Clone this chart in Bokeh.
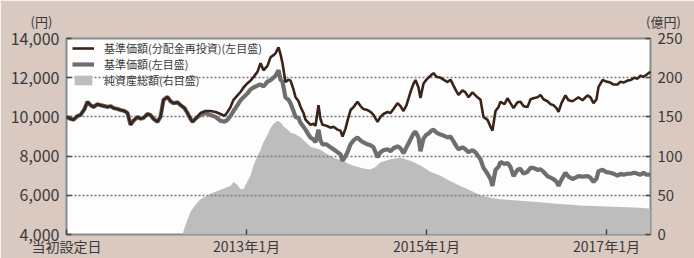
from bokeh.plotting import figure
from bokeh.models import (Range1d, LinearAxis, FixedTicker, NumeralTickFormatter,
                          Legend, LegendItem, Title)
from bokeh.embed import file_html
from bokeh.resources import INLINE

# ---- data (x = years since fund launch) ----
t_line = [0.000, 0.044, 0.078, 0.122, 0.156, 0.200, 0.233, 0.267, 0.300, 0.344,
          0.378, 0.422, 0.456, 0.489, 0.522, 0.567, 0.600, 0.644, 0.678, 0.711,
          0.744, 0.789, 0.822, 0.856, 0.900, 0.933, 0.967, 1.011, 1.044, 1.078,
          1.122, 1.156, 1.189, 1.233, 1.267, 1.311, 1.344, 1.378, 1.400, 1.444,
          1.489, 1.544, 1.600, 1.656, 1.711, 1.756, 1.789, 1.822, 1.856, 1.900,
          1.933, 1.967, 2.011, 2.044, 2.078, 2.122, 2.156, 2.189, 2.233, 2.267,
          2.300, 2.322, 2.356, 2.378, 2.400, 2.433, 2.467, 2.489, 2.522, 2.544,
          2.578, 2.600, 2.633, 2.656, 2.689, 2.711, 2.744, 2.767, 2.800, 2.822,
          2.844, 2.889, 2.933, 2.967, 3.011, 3.044, 3.067, 3.100, 3.122, 3.156,
          3.189, 3.233, 3.267, 3.300, 3.344, 3.378, 3.411, 3.456, 3.489, 3.522,
          3.567, 3.600, 3.633, 3.678, 3.711, 3.744, 3.778, 3.822, 3.856, 3.878,
          3.911, 3.933, 3.967, 4.000, 4.022, 4.056, 4.078, 4.111, 4.156, 4.189,
          4.233, 4.267, 4.300, 4.333, 4.356, 4.400, 4.433, 4.467, 4.511, 4.544,
          4.567, 4.600, 4.633, 4.678, 4.711, 4.733, 4.767, 4.800, 4.822, 4.867,
          4.900, 4.933, 4.967, 5.011, 5.044, 5.078, 5.122, 5.156, 5.189, 5.233,
          5.267, 5.300, 5.344, 5.378, 5.411, 5.444, 5.467, 5.500, 5.544, 5.578,
          5.622, 5.656, 5.689, 5.733, 5.789, 5.822, 5.856, 5.889, 5.911, 5.956,
          6.000, 6.044, 6.078, 6.122, 6.156, 6.189, 6.233, 6.267, 6.311, 6.344,
          6.378, 6.411, 6.444, 6.489]

nav_reinvested = [10000, 9900, 9850, 10050, 10100, 10400, 10770, 10600, 10500, 10650,
                  10600, 10550, 10500, 10550, 10450, 10400, 10350, 10300, 10200, 9600,
                  9800, 10000, 9900, 9950, 10150, 10100, 9900, 9750, 10000, 10870,
                  11020, 10800, 10700, 10750, 10600, 10450, 10200, 9900, 9750, 9950,
                  10200, 10300, 10300, 10250, 10150, 10050, 10250, 10500, 10870, 11100,
                  11270, 11500, 11720, 11850, 12030, 12300, 12740, 12380, 12600, 13040,
                  13150, 13240, 13550, 13200, 12740, 11780, 11900, 11850, 11400, 11020,
                  10800, 10520, 10200, 9860, 9700, 9600, 9650, 9550, 10600, 9900,
                  9600, 9550, 9450, 9500, 9350, 9300, 9000, 9400, 9800, 10350,
                  10500, 10770, 10550, 10400, 10350, 10260, 10100, 9750, 10000, 10150,
                  10250, 10200, 10400, 10700, 10550, 10300, 10600, 11270, 11700, 11880,
                  11500, 10970, 11700, 11900, 12000, 12150, 12230, 12050, 12000, 11900,
                  11780, 11900, 11600, 11300, 11120, 11350, 11250, 11000, 11250, 11100,
                  11000, 10870, 10000, 9850, 9500, 9300, 10300, 10500, 10770, 10650,
                  10950, 10700, 10450, 10750, 10770, 10550, 10500, 10900, 10950, 11000,
                  11120, 10900, 10800, 10650, 10600, 10450, 10260, 10700, 11100, 10850,
                  10800, 10900, 11000, 10850, 11100, 11000, 10700, 10900, 11520, 11880,
                  11800, 11750, 11650, 11650, 11800, 11750, 11850, 11880, 12000, 11950,
                  12100, 12050, 12150, 12300]

nav = [10000, 9900, 9850, 10050, 10100, 10400, 10770, 10600, 10500, 10650,
       10600, 10550, 10500, 10550, 10450, 10400, 10350, 10300, 10200, 9600,
       9800, 10000, 9900, 9950, 10150, 10100, 9900, 9750, 10000, 10870,
       11020, 10800, 10700, 10750, 10600, 10450, 10200, 9900, 9750, 9950,
       10100, 10200, 10100, 10000, 9800, 9750, 9850, 10050, 10300, 10600,
       10850, 11000, 11200, 11400, 11500, 11600, 11650, 11550, 11800, 11880,
       12000, 12100, 12380, 11900, 11800, 11000, 10870, 10700, 10300, 10000,
       9950, 9700, 9500, 9350, 9100, 8950, 8850, 8700, 9350, 8800,
       8600, 8600, 8450, 8350, 8200, 8100, 7750, 8000, 8200, 8600,
       8800, 8950, 8800, 8700, 8600, 8550, 8450, 7950, 8200, 8300,
       8350, 8250, 8400, 8500, 8400, 8150, 8450, 8850, 9150, 9250,
       8950, 8250, 8900, 9100, 9150, 9300, 9350, 9200, 9100, 9050,
       8950, 9000, 8750, 8500, 8340, 8450, 8350, 8200, 8300, 8200,
       8050, 7840, 7400, 7100, 6830, 6480, 7300, 7450, 7700, 7600,
       7650, 7450, 6980, 7300, 7350, 7100, 7200, 7400, 7400, 7300,
       7330, 7200, 6980, 6900, 6830, 6700, 6480, 6800, 7150, 6950,
       6830, 6900, 6980, 6950, 6980, 6900, 6680, 6850, 7230, 7300,
       7180, 7150, 7100, 7000, 7100, 7050, 7100, 7100, 7150, 7100,
       7050, 7150, 7050, 7050]

t_aum = [1.289, 1.322, 1.378, 1.433, 1.489, 1.600, 1.711, 1.822, 1.856, 1.900,
         1.933, 1.967, 2.011, 2.044, 2.078, 2.122, 2.156, 2.189, 2.233, 2.267,
         2.300, 2.344, 2.378, 2.411, 2.456, 2.489, 2.544, 2.600, 2.656, 2.711,
         2.767, 2.822, 2.878, 2.933, 2.989, 3.044, 3.100, 3.156, 3.211, 3.267,
         3.322, 3.378, 3.433, 3.489, 3.544, 3.600, 3.656, 3.711, 3.767, 3.822,
         3.933, 4.044, 4.156, 4.267, 4.378, 4.489, 4.600, 4.711, 4.822, 4.933,
         5.044, 5.156, 5.267, 5.378, 5.489, 5.600, 5.711, 5.933, 6.156, 6.378,
         6.489]
aum = [0, 12, 29, 38, 45, 52, 57, 62, 67, 63,
       58, 58, 68, 75, 88, 100, 108, 118, 127, 136,
       141, 145, 143, 138, 134, 130, 128, 124, 118, 112,
       110, 108, 104, 100, 97, 95, 92, 89, 87, 85,
       84, 83, 86, 92, 94, 96, 97, 98, 96, 94,
       88, 80, 75, 68, 62, 56, 50, 47, 45, 44,
       43, 42, 41, 40, 39, 38, 37, 36, 35, 34,
       33]

x_ticks = [0, 2, 4, 6]
x_tick_labels = ["当初設定日", "2013年1月", "2015年1月", "2017年1月"]
left_ticks = [4000, 6000, 8000, 10000, 12000, 14000]
right_ticks = [0, 50, 100, 150, 200, 250]
series_names = ["基準価額(分配金再投資)(左目盛)", "基準価額(左目盛)", "純資産総額(右目盛)"]
unit_left = "(円)"
unit_right = "(億円)"

FONT = "Noto Sans CJK JP"
TXT = "#3a3a3a"
BG = "#d9c9c1"

p = figure(width=694, height=258, output_backend="svg", toolbar_location=None,
           x_range=Range1d(0, 6.489), y_range=Range1d(4000, 14000),
           min_border_left=66, min_border_right=44, min_border_top=38, min_border_bottom=22,
           background_fill_color="#fdfdfd", border_fill_color=BG,
           outline_line_color="#8a8a8a", outline_line_width=2)
p.extra_y_ranges = {"aum": Range1d(0, 250)}

r_area = p.varea(x=t_aum, y1=0, y2=aum, y_range_name="aum",
                 fill_color="#bdbdbd", level="underlay")
r_nav = p.line(t_line, nav, line_color="#6e6e6e", line_width=4.2, level="guide")
r_re = p.line(t_line, nav_reinvested, line_color="#3a2318", line_width=2.6, level="guide")

# axes
ax_l = p.yaxis[0]
ax_l.ticker = FixedTicker(ticks=left_ticks)
ax_l.formatter = NumeralTickFormatter(format="0,0")
ax_r = LinearAxis(y_range_name="aum", ticker=FixedTicker(ticks=right_ticks))
p.add_layout(ax_r, "right")
ax_b = p.xaxis[0]
ax_b.ticker = FixedTicker(ticks=x_ticks)
ax_b.major_label_overrides = {t: lab for t, lab in zip(x_ticks, x_tick_labels)}

for ax in (ax_l, ax_r, ax_b):
    ax.axis_line_color = None
    ax.major_tick_in = 5
    ax.major_tick_out = 0
    ax.major_tick_line_color = "#444444"
    ax.major_tick_line_width = 1.5
    ax.minor_tick_line_color = None
    ax.major_label_text_font = FONT
    ax.major_label_text_color = TXT
    ax.major_label_standoff = 7
ax_l.major_label_text_font_size = "16px"
ax_r.major_label_text_font_size = "15px"
ax_b.major_label_standoff = 1
ax_b.major_label_text_font_size = "14px"

p.xgrid.grid_line_color = None
p.ygrid.grid_line_color = "#7a7a7a"
p.ygrid.grid_line_dash = "2 2"
p.ygrid.grid_line_width = 1.3
p.ygrid.level = "glyph"

# unit captions over the left and right value axes, on one line in the top border
units_caption = unit_left + "\u3000" * 45 + "\u00a0" * 3 + unit_right
p.add_layout(Title(text=units_caption, align="left", offset=-36, standoff=12,
                   vertical_align="top", text_font=FONT, text_font_size="13px",
                   text_font_style="normal", text_color=TXT), "above")

legend = Legend(items=[LegendItem(label=series_names[0], renderers=[r_re]),
                       LegendItem(label=series_names[1], renderers=[r_nav]),
                       LegendItem(label=series_names[2], renderers=[r_area])],
                location=(6, 146), margin=0, padding=1, spacing=0,
                glyph_width=22, glyph_height=12, label_height=12, label_standoff=10,
                label_text_font=FONT, label_text_font_size="11px", label_text_color=TXT,
                background_fill_alpha=0, border_line_color=None)
p.add_layout(legend)

open("out.html", "w").write(file_html(p, INLINE))
